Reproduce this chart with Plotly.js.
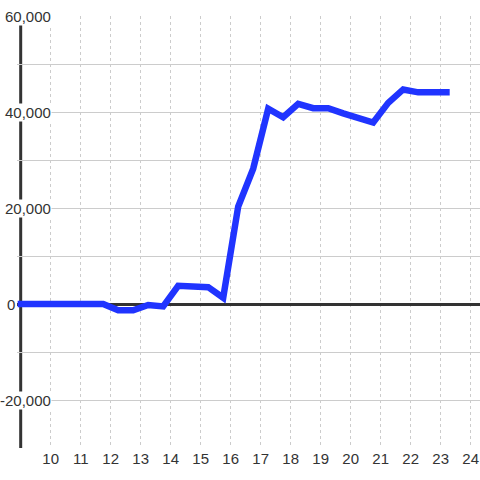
<!DOCTYPE html>
<html>
<head>
<meta charset="utf-8">
<script src="https://cdn.plot.ly/plotly-3.0.1.min.js"></script>
<style>html,body{margin:0;padding:0;background:#fff;}#chart{width:480px;height:480px;}</style>
</head>
<body>
<div id="chart"></div>
<script>
// Data
var xValues = [8.9, 9.25, 9.75, 10.25, 10.75, 11.25, 11.75, 12.25, 12.75, 13.25, 13.75, 14.25, 14.75, 15.25, 15.75, 16.25, 16.75, 17.25, 17.75, 18.25, 18.75, 19.25, 19.75, 20.25, 20.75, 21.25, 21.75, 22.25, 22.75, 23.3];
var yValues = [0, 0, 0, 0, 0, 0, 0, -1300, -1300, -200, -500, 3800, 3700, 3500, 1300, 20300, 28200, 40700, 38900, 41700, 40800, 40800, 39700, 38700, 37800, 41900, 44700, 44100, 44100, 44100];
var xTicks = [10, 11, 12, 13, 14, 15, 16, 17, 18, 19, 20, 21, 22, 23, 24];
var yLabelTicks = [60000, 40000, 20000, 0, -20000];

function fmt(v) { return v.toLocaleString('en-US'); }

var font = {family: 'Liberation Sans, Arial, sans-serif', size: 15, color: '#333333'};

var trace = {
  x: xValues, y: yValues, type: 'scatter', mode: 'lines',
  line: {color: '#2034ff', width: 6.5},
  hoverinfo: 'skip'
};

var annotations = yLabelTicks.map(function (v) {
  return {
    xref: 'paper', yref: 'y', x: 0, y: v,
    xanchor: 'right', yanchor: 'middle',
    xshift: v === 0 ? -1 : 35, yshift: 0,
    text: fmt(v), showarrow: false,
    font: font, bgcolor: '#ffffff', borderpad: 0
  };
});

var layout = {
  width: 480, height: 480,
  margin: {l: 17, r: 0, t: 16, b: 32, pad: 0},
  paper_bgcolor: '#ffffff', plot_bgcolor: '#ffffff',
  showlegend: false,
  font: font,
  xaxis: {
    range: [8.877, 24.31],
    tickmode: 'array', tickvals: xTicks, ticktext: xTicks.map(String),
    showgrid: true, gridcolor: '#cccccc', gridwidth: 1, griddash: 'dot',
    zeroline: false, showline: false, ticks: '',
    tickfont: font, fixedrange: true
  },
  yaxis: {
    range: [-30000, 60000],
    dtick: 10000, tick0: 0,
    showticklabels: false, ticks: '',
    showgrid: true, gridcolor: '#cccccc', gridwidth: 1,
    zeroline: true, zerolinecolor: '#333333', zerolinewidth: 3,
    showline: false, fixedrange: true
  },
  shapes: [{
    type: 'line', layer: 'between',
    xref: 'x', yref: 'paper', x0: 9, x1: 9, y0: 0, y1: 1,
    line: {color: '#333333', width: 3}
  }],
  annotations: annotations
};

Plotly.newPlot('chart', [trace], layout, {displayModeBar: false, staticPlot: true});
</script>
</body>
</html>
